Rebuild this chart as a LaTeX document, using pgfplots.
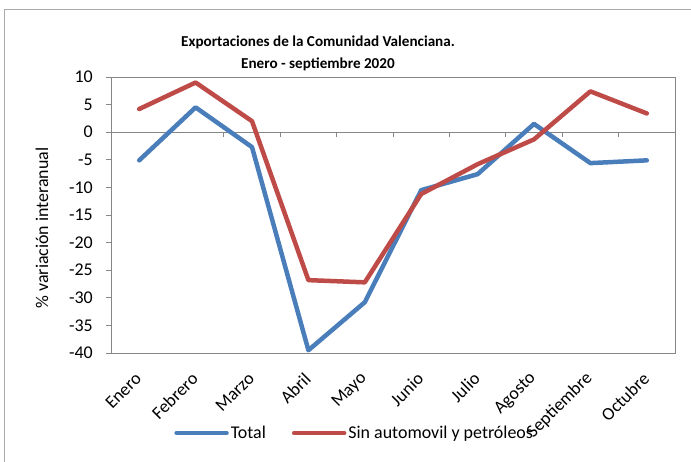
\documentclass[border=0pt]{standalone}
\usepackage{pgfplots}
\pgfplotsset{compat=1.18}
\usepackage{fontspec}
\setmainfont{Carlito}

\definecolor{serieazul}{RGB}{74,126,187}
\definecolor{serieroja}{RGB}{190,75,72}
\definecolor{ejegris}{RGB}{134,134,134}

\begin{document}
\begin{tikzpicture}[font=\fontsize{18}{20}\selectfont]
  \useasboundingbox (0,0) rectangle (691bp,462bp);
  % marco del grafico
  \draw[ejegris!70, line width=0.8bp] (4bp,453bp) rectangle (720bp,-20bp);

  % linea del cero con marcas entre categorias
  \begin{axis}[
      at={(111bp,109bp)}, anchor=south west,
      scale only axis, width=564bp, height=276bp,
      xmin=-0.5, xmax=9.5, ymin=-40, ymax=10,
      axis x line=middle, axis y line=none,
      axis line style={ejegris, line width=1bp, -},
      xtick={-0.5,0.5,...,9.5}, xticklabels={},
      ytick=\empty,
      tick align=outside, major tick length=5bp,
      x tick style={ejegris, line width=0.8bp},
    ]
  \end{axis}

  \begin{axis}[
      at={(111bp,109bp)}, anchor=south west,
      scale only axis, width=564bp, height=276bp,
      xmin=-0.5, xmax=9.5, ymin=-40, ymax=10,
      ytick={-40,-35,...,10},
      xtick={0,...,9},
      xticklabels={Enero,Febrero,Marzo,Abril,Mayo,Junio,Julio,Agosto,Septiembre,Octubre},
      xticklabel style={rotate=45, anchor=east, inner sep=1bp},
      xticklabel shift=17bp,
      yticklabel style={inner sep=1bp},
      yticklabel shift=12bp,
      x tick style={draw=none},
      y tick style={ejegris, line width=0.8bp},
      tick align=outside, major tick length=5bp,
      ytick pos=left,
      axis line style={ejegris, line width=1bp},
      /pgf/number format/assume math mode=true,
      legend columns=2,
      legend style={draw=none, fill=none, at={(0.432,-0.29)}, anchor=center,
        /tikz/every even column/.append style={column sep=24bp}},
      legend image code/.code={\draw[#1] (0bp,0bp) -- (50bp,0bp);},
      every axis plot/.append style={line width=4.5bp, line join=round, line cap=round},
    ]
    \addplot[serieazul] coordinates {
      (0,-5.1) (1,4.5) (2,-2.7) (3,-39.5) (4,-30.8)
      (5,-10.5) (6,-7.6) (7,1.5) (8,-5.6) (9,-5.1)
    };
    \addplot[serieroja] coordinates {
      (0,4.2) (1,9.0) (2,2.0) (3,-26.8) (4,-27.2)
      (5,-11.2) (6,-5.8) (7,-1.3) (8,7.4) (9,3.4)
    };
    \legend{Total, Sin automovil y petróleos}
  \end{axis}

  \node[font=\fontsize{15.2}{22}\selectfont\bfseries, align=center] at (318bp,409bp)
    {Exportaciones de la Comunidad Valenciana.\\Enero - septiembre 2020};
  \node[rotate=90] at (42bp,234bp) {\% variación interanual};
\end{tikzpicture}
\end{document}
